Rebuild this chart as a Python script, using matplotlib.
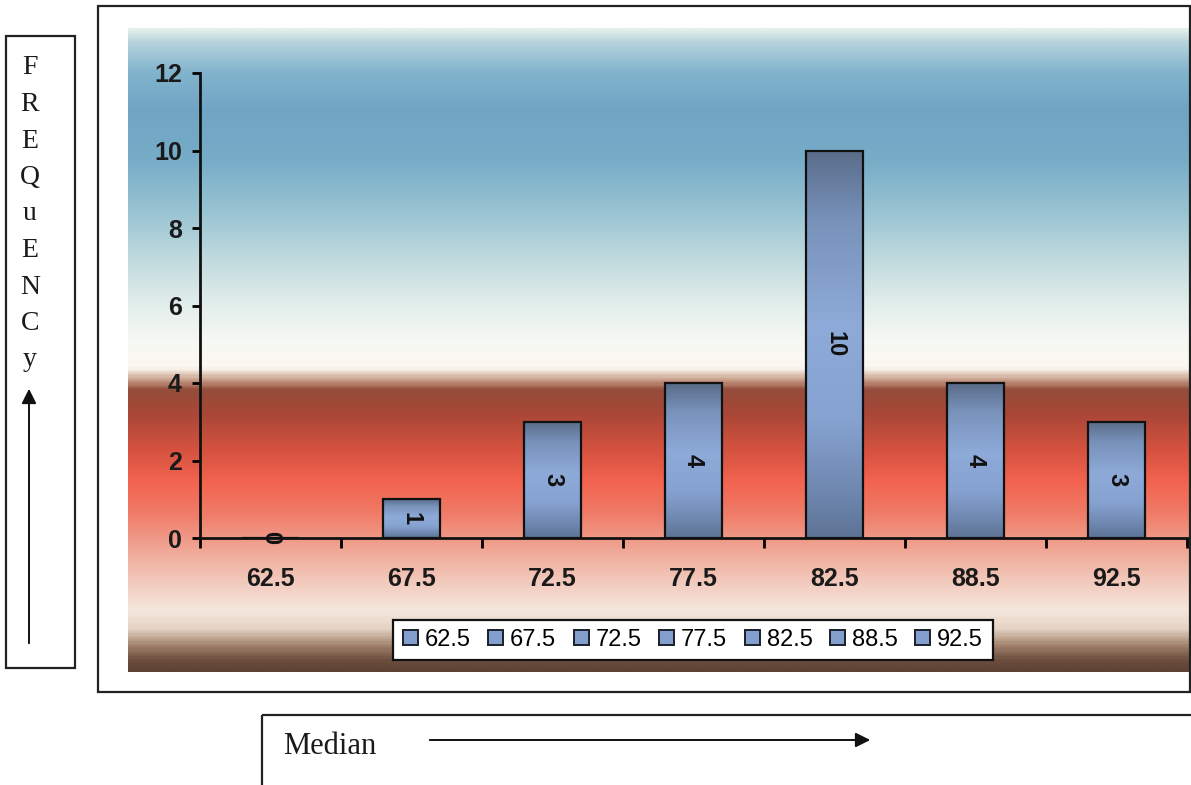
import matplotlib
matplotlib.use('Agg')
import matplotlib.pyplot as plt
import numpy as np
from matplotlib.colors import LinearSegmentedColormap
from matplotlib.patches import Rectangle, Patch

# class medians and how many fall in each
medians = ['62.5', '67.5', '72.5', '77.5', '82.5', '88.5', '92.5']
frequency = [0, 1, 3, 4, 10, 4, 3]
y_ticks = [0, 2, 4, 6, 8, 10, 12]
side_letters = ['F', 'R', 'E', 'Q', 'u', 'E', 'N', 'C', 'y']

plt.rcParams['font.family'] = 'Liberation Sans'

W, H = 1191, 785
fig = plt.figure(figsize=(W / 100, H / 100), dpi=100)

# page layer, pixel units, y down
page = fig.add_axes([0, 0, 1, 1], zorder=0)

# sky / sunset background behind the plot
bg_stops = [
    (28, '#e4eeec'), (40, '#b8d4dd'), (70, '#82b4cd'), (110, '#6fa4c4'),
    (160, '#78adc8'), (210, '#98c3d2'), (260, '#c2dbde'), (310, '#e6f0ec'),
    (345, '#f8f9f4'), (368, '#fbf7f0'), (380, '#c9a08a'), (390, '#944c3a'),
    (415, '#aa4737'), (450, '#d4523f'), (482, '#f2634f'), (515, '#ef7c68'),
    (545, '#f0a08e'), (580, '#f2c7b9'), (612, '#f5e7dd'), (630, '#e6d4c4'),
    (648, '#9e7e69'), (662, '#6c4e3e'), (672, '#5e4234'),
]
rows = np.array([r for r, _ in bg_stops], dtype=float)
pos = (rows - rows[0]) / (rows[-1] - rows[0])
bg_cmap = LinearSegmentedColormap.from_list('bg', list(zip(pos, [c for _, c in bg_stops])))
page.imshow(np.linspace(0, 1, 600).reshape(-1, 1), cmap=bg_cmap,
            extent=[128, W, 672, 28], aspect='auto', interpolation='bilinear')
page.set_xlim(0, W)
page.set_ylim(H, 0)
page.axis('off')

# frames
page.add_patch(Rectangle((98, 6), 1092, 686, fill=False, lw=1.6, ec='#222222'))
page.add_patch(Rectangle((6, 36), 69, 632, fill=False, lw=1.6, ec='#222222'))
page.add_patch(Rectangle((262, 715), 1000, 200, fill=False, lw=1.6, ec='#222222'))

for i, ch in enumerate(side_letters):
    page.text(30, 68 + 36.5 * i, ch, family='Liberation Serif', size=20,
              ha='center', va='center', color='#1a1a1a')
page.annotate('', xy=(29, 386), xytext=(29, 646),
              arrowprops=dict(arrowstyle='-|>', lw=1.4, color='#111111', mutation_scale=22))

page.text(283, 747, 'Median', family='Liberation Serif', size=22, va='center', color='#1a1a1a')
page.annotate('', xy=(873, 740), xytext=(427, 740),
              arrowprops=dict(arrowstyle='-|>', lw=1.4, color='#111111', mutation_scale=22))

# bar chart
ax = fig.add_axes([200 / W, (H - 538) / H, 987 / W, 465 / H], zorder=1)
ax.patch.set_alpha(0)

bar_cmap = LinearSegmentedColormap.from_list('bar', [
    (0.0, '#5e7496'), (0.12, '#6f88b0'), (0.3, '#86a2d0'), (0.55, '#8eaad8'),
    (0.82, '#7892ba'), (1.0, '#5a6d8a')])

x = np.arange(len(medians))
bars = ax.bar(x, frequency, width=0.4, facecolor='none', edgecolor='#111111', lw=1.6, zorder=3)
for b, v in zip(bars, frequency):
    if v > 0:
        ax.imshow(np.linspace(1, 0, 200).reshape(-1, 1), cmap=bar_cmap,
                  extent=[b.get_x(), b.get_x() + b.get_width(), 0, v],
                  aspect='auto', interpolation='bilinear', zorder=2)
    ax.text(b.get_x() + b.get_width() / 2, v / 2, str(v), rotation=-90,
            ha='center', va='center', fontweight='bold', size=17, color='#111111', zorder=4)

ax.set_xlim(-0.5, len(medians) - 0.5)
ax.set_ylim(0, 12)

for side in ['top', 'right']:
    ax.spines[side].set_visible(False)
for side in ['left', 'bottom']:
    ax.spines[side].set_linewidth(2)
    ax.spines[side].set_color('#111111')

ax.set_yticks(y_ticks)
ax.set_yticklabels([str(t) for t in y_ticks], fontweight='bold', size=18, color='#1a1a1a')
ax.tick_params(axis='y', direction='out', length=6, width=2, pad=7)

ax.set_xticks(np.arange(-0.5, len(medians), 1))
ax.set_xticklabels([])
ax.set_xticks(x, minor=True)
ax.set_xticklabels(medians, minor=True, fontweight='bold', size=18, color='#1a1a1a')
ax.tick_params(axis='x', which='major', direction='out', length=7, width=2)
ax.tick_params(axis='x', which='minor', length=0, pad=21)

handles = [Patch(facecolor='#829fce', edgecolor='#1a1f2a', lw=1.4, label=m) for m in medians]
leg = ax.legend(handles=handles, ncol=7, loc='center',
                bbox_to_anchor=(693 / W, (H - 640) / H), bbox_transform=fig.transFigure,
                frameon=True, fancybox=False, edgecolor='#111111', framealpha=1,
                prop={'family': 'Liberation Sans', 'size': 17},
                handlelength=0.62, handleheight=0.62, handletextpad=0.3,
                columnspacing=0.75, borderpad=0.4, borderaxespad=0)
leg.get_frame().set_linewidth(1.6)

fig.savefig('out.png', dpi=100)
